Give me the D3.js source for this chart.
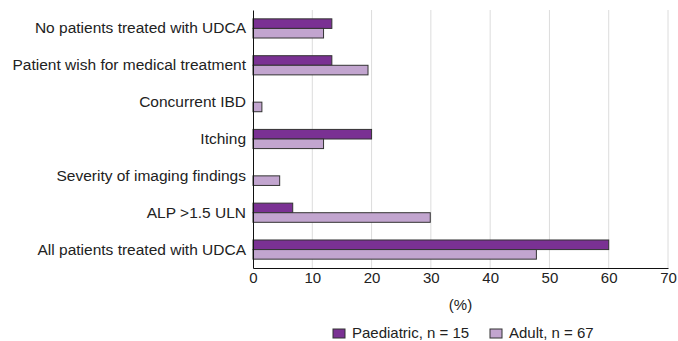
<!DOCTYPE html>
<html>
<head>
<meta charset="utf-8">
<script src="https://cdn.jsdelivr.net/npm/d3@7"></script>
<style>
  body { margin: 0; background: #fff; }
  svg text { font-family: "Liberation Sans", Arial, sans-serif; fill: #222; }
</style>
</head>
<body>
<div id="chart"></div>
<script>
const categories = [
  'No patients treated with UDCA',
  'Patient wish for medical treatment',
  'Concurrent IBD',
  'Itching',
  'Severity of imaging findings',
  'ALP >1.5 ULN',
  'All patients treated with UDCA'
]
const paediatric = [13.3, 13.3, 0, 20.0, 0, 6.7, 60.0]
const adult = [11.9, 19.4, 1.5, 11.9, 4.5, 29.9, 47.8]
const xTicks = [0, 10, 20, 30, 40, 50, 60, 70]
const seriesNames = ['Paediatric, n = 15', 'Adult, n = 67']
const colors = ['#7a3193', '#c2a5cf']

let dms = {
  width: 678,
  height: 341,
  margin: { top: 10, right: 10, bottom: 73, left: 253 }
}
dms.chartWidth = dms.width - dms.margin.left - dms.margin.right
dms.chartHeight = dms.height - dms.margin.top - dms.margin.bottom

const svg = d3.select('#chart').append('svg')
  .attr('width', dms.width)
  .attr('height', dms.height)

const g = svg.append('g')
  .attr('transform', `translate(${dms.margin.left},${dms.margin.top})`)

const x = d3.scaleLinear().domain([0, 70]).range([0, dms.chartWidth])
const y = d3.scaleBand().domain(categories).range([0, dms.chartHeight]).paddingInner(0.48).paddingOuter(0.24)
const sub = d3.scaleBand().domain([0, 1]).range([0, y.bandwidth()])

// gridlines
g.append('g').selectAll('line')
  .data(xTicks.slice(1))
  .join('line')
  .attr('x1', d => x(d)).attr('x2', d => x(d))
  .attr('y1', 0).attr('y2', dms.chartHeight)
  .attr('stroke', '#dcdcdc').attr('stroke-width', 1)

const rows = categories.map((c, i) => ({ c, vals: [paediatric[i], adult[i]] }))

g.append('g').selectAll('g')
  .data(rows)
  .join('g')
  .attr('transform', d => `translate(0,${y(d.c)})`)
  .selectAll('rect')
  .data(d => d.vals.map((v, k) => ({ v, k })).filter(e => e.v > 0))
  .join('rect')
  .attr('x', 0)
  .attr('y', d => sub(d.k))
  .attr('width', d => x(d.v))
  .attr('height', sub.bandwidth())
  .attr('fill', d => colors[d.k])
  .attr('stroke', '#333')
  .attr('stroke-width', 1)

// y axis
const yAxis = g.append('g')
  .call(d3.axisLeft(y).tickSize(0).tickPadding(7))
yAxis.attr('font-size', null)
yAxis.select('.domain').attr('stroke', '#111')
yAxis.selectAll('text').style('font-size', '15.5px').style('fill', '#222')

// x axis
const xAxis = g.append('g')
  .attr('transform', `translate(0,${dms.chartHeight})`)
  .call(d3.axisBottom(x).tickValues(xTicks).tickSize(0).tickPadding(4))
xAxis.attr('font-size', null)
xAxis.select('.domain').attr('stroke', '#111')
xAxis.selectAll('text').style('font-size', '15px').style('fill', '#222')

svg.append('text')
  .attr('x', dms.margin.left + x(35))
  .attr('y', 310)
  .attr('text-anchor', 'middle')
  .style('font-size', '15px')
  .text('(%)')

// legend
const legendX = [333, 490]
const legend = svg.append('g').selectAll('g')
  .data(seriesNames)
  .join('g')
  .attr('transform', (d, i) => `translate(${legendX[i]},333)`)
legend.append('rect')
  .attr('x', 0).attr('y', -4)
  .attr('width', 12).attr('height', 9)
  .attr('fill', (d, i) => colors[i])
  .attr('stroke', '#333')
legend.append('text')
  .attr('x', 19).attr('y', 5)
  .style('font-size', '15px')
  .text(d => d)
</script>
</body>
</html>
